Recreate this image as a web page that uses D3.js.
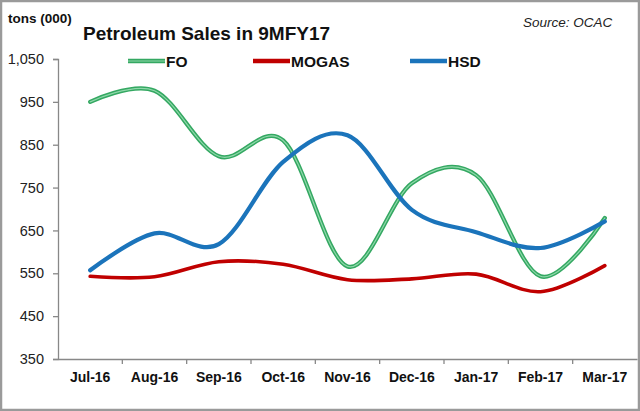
<!DOCTYPE html>
<html>
<head>
<meta charset="utf-8">
<script src="https://cdn.jsdelivr.net/npm/d3@7"></script>
<style>
  body { margin: 0; background: #fff; }
  svg { display: block; font-family: Arial, "Liberation Sans", sans-serif; }
</style>
</head>
<body>
<svg id="chart" width="640" height="411"></svg>
<script>
// data (tons, 000)
var months = ["Jul-16", "Aug-16", "Sep-16", "Oct-16", "Nov-16", "Dec-16", "Jan-17", "Feb-17", "Mar-17"];
var fo_values = [950, 976, 823, 860, 566, 760, 779, 543, 679];
var mogas_values = [543, 542, 577, 571, 535, 537, 548, 507, 568];
var hsd_values = [557, 643, 618, 810, 872, 698, 646, 609, 671];
var y_ticks = [350, 450, 550, 650, 750, 850, 950, 1050];

const FO_COLOR = '#34a862';
const FO_INNER = '#8fd8aa';
const MOGAS_COLOR = '#c00000';
const HSD_COLOR = '#1b74bb';
const AXIS_COLOR = '#888888';

var svg = d3.select("#chart");
var ww = 640, hh = 411;

// plot area
var plot_left = 58, plot_right = 637, plot_top = 59, plot_bottom = 359;

// frame round the picture
svg.append("rect")
    .attr("x", 1).attr("y", 1)
    .attr("width", ww - 2).attr("height", hh - 2)
    .attr("fill", "#fff")
    .attr("stroke", "#9a9a9a")
    .attr("stroke-width", 2.5);

var x = d3.scaleBand().domain(months).range([plot_left, plot_right]).padding(0);
var y = d3.scaleLinear().domain([350, 1050]).range([plot_bottom, plot_top]);

function cx(d, i) { return x(months[i]) + x.bandwidth() / 2; }

// y axis
var y_axis = svg.append("g")
    .attr("transform", "translate(" + plot_left + ",0)")
    .call(d3.axisLeft(y).tickValues(y_ticks).tickFormat(d3.format(",")).tickSize(5).tickPadding(9));
y_axis.select(".domain").attr("stroke", AXIS_COLOR).attr("stroke-width", 1.3);
y_axis.selectAll(".tick line").attr("stroke", AXIS_COLOR).attr("stroke-width", 1.3);
y_axis.selectAll("text")
    .attr("font-size", 14.5)
    .attr("font-family", "Arial, 'Liberation Sans', sans-serif")
    .attr("fill", "#222");

// x axis: labels in the middle of the bands, ticks at the band edges
var x_axis = svg.append("g")
    .attr("transform", "translate(0," + plot_bottom + ")")
    .call(d3.axisBottom(x).tickSize(0).tickPadding(13));
x_axis.select(".domain").attr("stroke", AXIS_COLOR).attr("stroke-width", 1.3);
x_axis.selectAll("text")
    .attr("font-size", 14)
    .attr("font-weight", "bold")
    .attr("font-family", "Arial, 'Liberation Sans', sans-serif")
    .attr("fill", "#111");
x_axis.selectAll(".edge")
    .data(months.slice(1))
    .enter().append("line")
    .attr("class", "edge")
    .attr("x1", function(d) { return x(d); })
    .attr("x2", function(d) { return x(d); })
    .attr("y1", 0).attr("y2", 5)
    .attr("stroke", AXIS_COLOR)
    .attr("stroke-width", 1.3);

// the three series, smoothed like the spreadsheet does it
var line = d3.line()
    .x(cx)
    .y(function(d) { return y(d); })
    .curve(d3.curveCatmullRom.alpha(0));

svg.append("path").datum(mogas_values)
    .attr("d", line).attr("fill", "none")
    .attr("stroke", MOGAS_COLOR).attr("stroke-width", 3.6)
    .attr("stroke-linecap", "round");

svg.append("path").datum(fo_values)
    .attr("d", line).attr("fill", "none")
    .attr("stroke", FO_COLOR).attr("stroke-width", 4.2)
    .attr("stroke-linecap", "round");
svg.append("path").datum(fo_values)
    .attr("d", line).attr("fill", "none")
    .attr("stroke", FO_INNER).attr("stroke-width", 1.2)
    .attr("stroke-linecap", "round");

svg.append("path").datum(hsd_values)
    .attr("d", line).attr("fill", "none")
    .attr("stroke", HSD_COLOR).attr("stroke-width", 4.2)
    .attr("stroke-linecap", "round");

// legend
var legend_items = [
    {name: "FO", color: FO_COLOR, inner: FO_INNER, x: 128},
    {name: "MOGAS", color: MOGAS_COLOR, inner: null, x: 253},
    {name: "HSD", color: HSD_COLOR, inner: null, x: 410}
];
var lg = svg.selectAll(".legend")
    .data(legend_items)
    .enter().append("g")
    .attr("class", "legend")
    .attr("transform", function(d) { return "translate(" + d.x + ",61)"; });
lg.append("line")
    .attr("x1", 0).attr("x2", 37).attr("y1", 0).attr("y2", 0)
    .attr("stroke", function(d) { return d.color; })
    .attr("stroke-width", 4.5);
lg.filter(function(d) { return d.inner; }).append("line")
    .attr("x1", 0).attr("x2", 37).attr("y1", 0).attr("y2", 0)
    .attr("stroke", function(d) { return d.inner; })
    .attr("stroke-width", 1.2);
lg.append("text")
    .attr("x", 38).attr("y", 5.6)
    .attr("font-size", 15.5)
    .attr("font-weight", "bold")
    .attr("fill", "#111")
    .text(function(d) { return d.name; });

// titles
svg.append("text")
    .attr("x", 83).attr("y", 39.5)
    .attr("font-size", 19)
    .attr("font-weight", "bold")
    .attr("fill", "#111")
    .text("Petroleum Sales in 9MFY17");

svg.append("text")
    .attr("x", 8).attr("y", 22.5)
    .attr("font-size", 13.5)
    .attr("font-weight", "bold")
    .attr("fill", "#111")
    .text("tons (000)");

svg.append("text")
    .attr("x", 523).attr("y", 27)
    .attr("font-size", 13.5)
    .attr("font-style", "italic")
    .attr("fill", "#222")
    .text("Source: OCAC");
</script>
</body>
</html>
